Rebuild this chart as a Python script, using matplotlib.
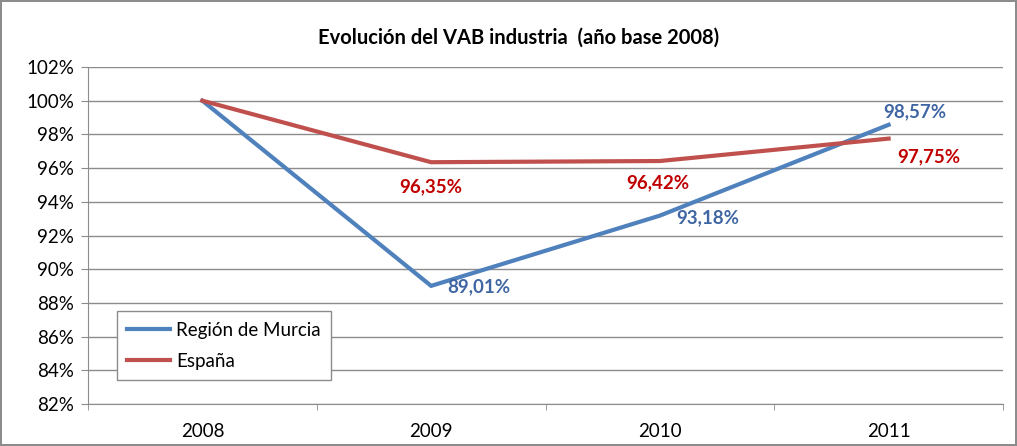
import matplotlib.pyplot as plt
from matplotlib.ticker import FuncFormatter, FixedLocator

# data
years = ["2008", "2009", "2010", "2011"]
murcia = [100.0, 89.01, 93.18, 98.57]
espana = [100.0, 96.35, 96.42, 97.75]
murcia_labels = ["", "89,01%", "93,18%", "98,57%"]
espana_labels = ["", "96,35%", "96,42%", "97,75%"]

plt.rcParams['font.family'] = ['Lato', 'DejaVu Sans']

fig = plt.figure(figsize=(10.17, 4.46), dpi=100)
fig.patch.set_edgecolor('#8c8c8c')
fig.patch.set_linewidth(1.5)
ax = fig.add_axes([88 / 1017, 1 - 404 / 446, 915 / 1017, 337 / 446])

x = list(range(len(years)))
ax.plot(x, murcia, color='#4F81BD', lw=3, label='Región de Murcia', solid_joinstyle='miter')
ax.plot(x, espana, color='#C0504D', lw=3, label='España', solid_joinstyle='miter')

# data labels
offs_m = [None, (0.21, -0.07), (0.21, -0.15), (0.115, 0.76)]
offs_e = [None, (0.0, -1.45), (-0.01, -1.3), (0.175, -1.05)]
for i in range(1, 4):
    dx, dy = offs_m[i]
    ax.text(i + dx, murcia[i] + dy, murcia_labels[i], color='#3F66A3', fontsize=13.5,
            fontweight='bold', ha='center', va='center')
    dx, dy = offs_e[i]
    ax.text(i + dx, espana[i] + dy, espana_labels[i], color='#C00000', fontsize=13.5,
            fontweight='bold', ha='center', va='center')

ax.set_xlim(-0.5, 3.5)
ax.set_ylim(82, 102)
ax.yaxis.set_major_locator(FixedLocator(range(82, 103, 2)))
ax.yaxis.set_major_formatter(FuncFormatter(lambda v, p: f"{v:.0f}%"))
ax.set_xticks(x)
ax.set_xticklabels(years)
ax.xaxis.set_minor_locator(FixedLocator([-0.5, 0.5, 1.5, 2.5, 3.5]))
ax.tick_params(axis='x', which='major', length=0, labelsize=13.5, pad=14)
ax.tick_params(axis='x', which='minor', length=4, color='#8c8c8c')
ax.tick_params(axis='y', length=5, color='#8c8c8c', labelsize=13.5, pad=5)

ax.grid(axis='y', color='#8c8c8c', lw=1)
ax.set_axisbelow(True)
for s in ['top', 'right']:
    ax.spines[s].set_visible(False)
for s in ['left', 'bottom']:
    ax.spines[s].set_color('#8c8c8c')

# title centred on the chart area like the original
fig.text(519 / 1017, 1 - 38 / 446, 'Evolución del VAB industria  (año base 2008)',
         fontsize=14.5, fontweight='bold', ha='center', va='center')

leg = ax.legend(loc='lower left', bbox_to_anchor=(29 / 915, 24 / 337), fancybox=False,
                edgecolor='#8c8c8c', fontsize=13.5, handlelength=2.3, handletextpad=0.3,
                labelspacing=0.75, borderpad=0.55, borderaxespad=0, framealpha=1)
leg.get_frame().set_linewidth(1)

fig.savefig('out.png', dpi=100)
